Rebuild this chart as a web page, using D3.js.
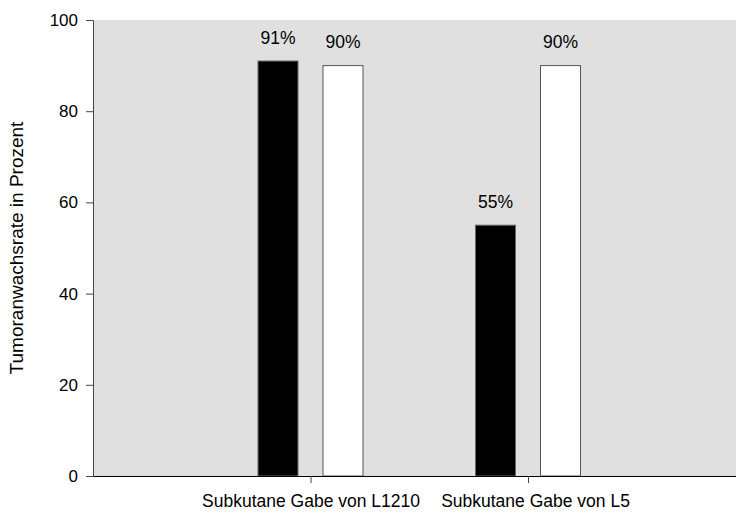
<!DOCTYPE html>
<html><head><meta charset="utf-8">
<script src="https://cdn.jsdelivr.net/npm/d3@7"></script>
<style>body{margin:0;background:#fff}svg{display:block;font-family:"Liberation Sans",Arial,sans-serif}</style>
</head><body><svg id="c" width="736" height="513"></svg>
<script>
const categories = ["Subkutane Gabe von L1210", "Subkutane Gabe von L5"];
const seriesBlack = [91, 55];
const seriesWhite = [90, 90];
const valueLabelsBlack = ["91%", "55%"];
const valueLabelsWhite = ["90%", "90%"];
const yTicks = [0, 20, 40, 60, 80, 100];
const yTitle = "Tumoranwachsrate in Prozent";

(function () {
const svg = d3.select("#c");
const mLeft = 93, mTop = 20, mBottom = 476, rightFull = 745.5;
const x = d3.scaleLinear().domain([0, 3]).range([mLeft, rightFull]);
const y = d3.scaleLinear().domain([0, 100]).range([mBottom, mTop]);

svg.append("rect").attr("x", mLeft).attr("y", mTop).attr("width", 736 - mLeft).attr("height", mBottom - mTop).attr("fill", "#e0e0e0");

const barW = 40, off = 32.5;
const g = svg.append("g");
categories.forEach((c, i) => {
  const cx = x(i + 1);
  g.append("rect").attr("x", cx - off - barW / 2).attr("y", y(seriesBlack[i])).attr("width", barW)
    .attr("height", y(0) - y(seriesBlack[i])).attr("fill", "#000").attr("stroke", "#666").attr("stroke-width", 1);
  g.append("rect").attr("x", cx + off - barW / 2).attr("y", y(seriesWhite[i])).attr("width", barW)
    .attr("height", y(0) - y(seriesWhite[i])).attr("fill", "#fff").attr("stroke", "#555").attr("stroke-width", 1);
  g.append("text").attr("x", cx - off).attr("y", y(seriesBlack[i]) - 17).attr("text-anchor", "middle")
    .attr("font-size", 17.5).text(valueLabelsBlack[i]);
  g.append("text").attr("x", cx + off).attr("y", y(seriesWhite[i]) - 18).attr("text-anchor", "middle")
    .attr("font-size", 17.5).text(valueLabelsWhite[i]);
});

const ya = svg.append("g").attr("transform", `translate(${mLeft},0)`)
  .call(d3.axisLeft(y).tickValues(yTicks).tickSize(7).tickPadding(8).tickSizeOuter(0));
ya.select(".domain").attr("stroke", "#444");
ya.selectAll(".tick line").attr("stroke", "#444");
ya.selectAll("text").attr("font-size", 17).attr("font-family", "Liberation Sans, Arial, sans-serif").attr("fill", "#000");

const xa = svg.append("g").attr("transform", `translate(0,${mBottom})`)
  .call(d3.axisBottom(x).tickValues([1, 2]).tickFormat((d) => categories[d - 1]).tickSize(7).tickPadding(12).tickSizeOuter(0));
xa.select(".domain").attr("stroke", "#000");
xa.selectAll(".tick line").attr("stroke", "#444");
xa.selectAll("text").attr("font-size", 17.5).attr("font-family", "Liberation Sans, Arial, sans-serif").attr("fill", "#000")
  .attr("dx", (d) => (d === 2 ? 7 : 0));

svg.append("text").attr("transform", `translate(23,${(mTop + mBottom) / 2}) rotate(-90)`)
  .attr("text-anchor", "middle").attr("font-size", 19).text(yTitle);
})();
</script></body></html>
